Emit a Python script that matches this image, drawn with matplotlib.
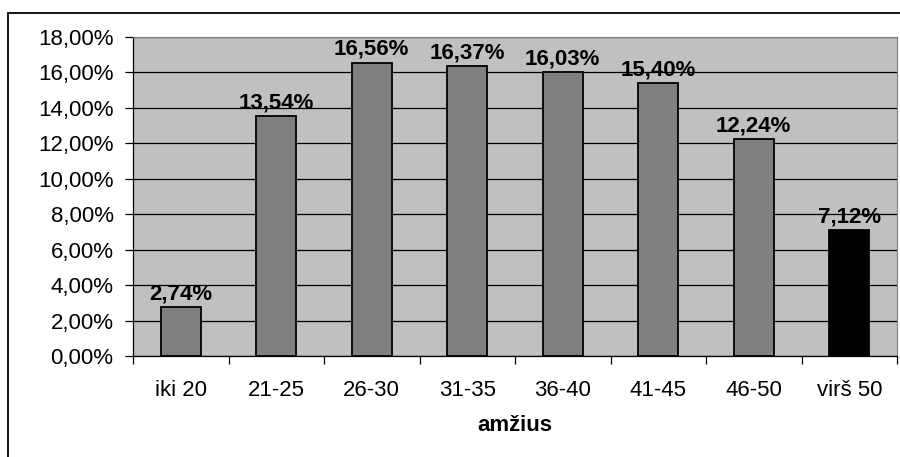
import matplotlib.pyplot as plt
from matplotlib.patches import Rectangle

plt.rcParams['font.family'] = ['Liberation Sans', 'DejaVu Sans']

grupes = ['iki 20', '21-25', '26-30', '31-35', '36-40', '41-45', '46-50', 'virš 50']
dalis = [2.74, 13.54, 16.56, 16.37, 16.03, 15.40, 12.24, 7.12]
spalvos = ['#808080'] * 7 + ['#000000']

fs = 16

fig = plt.figure(figsize=(9, 4.57), dpi=100)
ax = fig.add_axes([0.1478, 0.221, 0.8489, 0.698])

# remelis aplink visa diagrama
fig.patches.append(Rectangle((8/900, -0.2), 1.2, 0.9716 + 0.2, transform=fig.transFigure,
                             fill=False, edgecolor='black', linewidth=1.3))

ax.set_facecolor('#c0c0c0')
x = range(len(grupes))
ax.bar(x, dalis, width=0.42, color=spalvos, edgecolor='black', linewidth=1.3, zorder=3)

for i, v in enumerate(dalis):
    ax.annotate(('%.2f%%' % v).replace('.', ','), (i, v), xytext=(0, 2),
                textcoords='offset points', ha='center', va='bottom',
                fontsize=fs, fontweight='bold', zorder=4)

ax.set_xlim(-0.5, len(grupes) - 0.5)
ax.set_ylim(0, 18)
ax.set_yticks([0, 2, 4, 6, 8, 10, 12, 14, 16, 18])
ax.set_yticklabels([('%.2f%%' % t).replace('.', ',') for t in range(0, 19, 2)], fontsize=fs)
ax.yaxis.grid(True, color='black', linewidth=0.9, zorder=1)

ax.set_xticks(list(x))
ax.set_xticklabels(grupes, fontsize=fs)
ax.set_xticks([i - 0.5 for i in range(len(grupes) + 1)], minor=True)
ax.tick_params(axis='x', which='major', length=0, pad=17)
ax.tick_params(axis='x', which='minor', length=6, width=0.9, direction='out')
ax.tick_params(axis='y', length=6, width=0.9, direction='out', pad=8)

for s in ['top', 'right']:
    ax.spines[s].set_color('#808080')
for s in ['left', 'bottom']:
    ax.spines[s].set_color('black')
    ax.spines[s].set_linewidth(0.9)

ax.set_xlabel('amžius', fontsize=fs, fontweight='bold', labelpad=10)

fig.savefig('out.png', dpi=100)
